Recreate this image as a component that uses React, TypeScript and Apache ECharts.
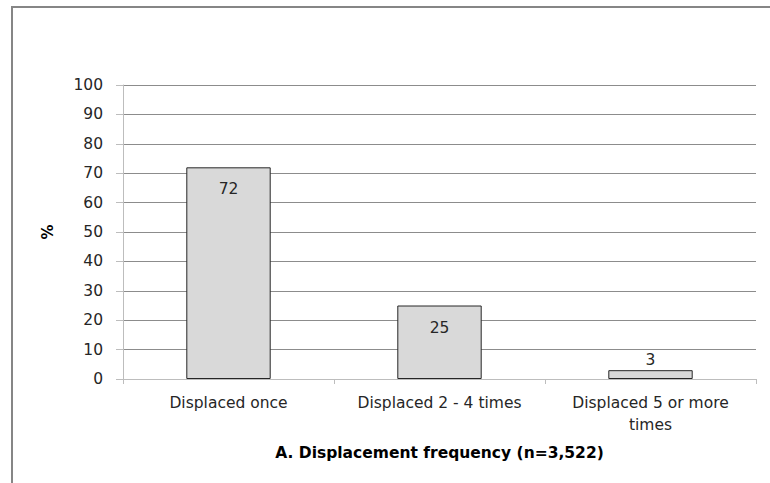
import React, { useEffect, useRef } from "react";
import * as echarts from "echarts";

const categories = ["Displaced once", "Displaced 2 - 4 times", "Displaced 5 or more\ntimes"];
const shares = [72, 25, 3];
const yTicks = { min: 0, max: 100, interval: 10 };
const xTitle = "A. Displacement frequency (n=3,522)";
const yTitle = "%";

const FONT = "DejaVu Sans";

export default function App() {
  const ref = useRef<HTMLDivElement>(null);

  useEffect(() => {
    if (!ref.current) return;
    const chart = echarts.init(ref.current, null, { renderer: "svg" });
    chart.setOption({
      animation: false,
      backgroundColor: "#ffffff",
      textStyle: { fontFamily: FONT },
      grid: { left: 123, right: 14, top: 85, bottom: 104 },
      graphic: [
        {
          type: "polyline",
          shape: { points: [[12, 483], [12, 7], [770, 7]] },
          style: { stroke: "#868686", lineWidth: 2, fill: null },
          silent: true,
        },
      ],
      xAxis: {
        type: "category",
        data: categories,
        name: xTitle,
        nameLocation: "middle",
        nameGap: 66,
        nameMoveOverlap: false,
        nameTextStyle: { fontFamily: FONT, fontSize: 15.5, fontWeight: "bold", color: "#000" },
        axisLine: { lineStyle: { color: "#bdbdbd", width: 1 } },
        axisTick: { show: true, length: 5, lineStyle: { color: "#bdbdbd" } },
        axisLabel: {
          interval: 0,
          hideOverlap: false,
          fontFamily: FONT,
          fontSize: 15.5,
          color: "#262626",
          margin: 13,
          lineHeight: 22,
        },
      },
      yAxis: {
        type: "value",
        min: yTicks.min,
        max: yTicks.max,
        interval: yTicks.interval,
        name: yTitle,
        nameLocation: "middle",
        nameGap: 68,
        nameRotate: 90,
        nameTextStyle: { fontFamily: FONT, fontSize: 15, fontWeight: "bold", color: "#000" },
        axisLine: { show: true, lineStyle: { color: "#bdbdbd", width: 1 } },
        axisTick: { show: true, length: 7, lineStyle: { color: "#bdbdbd" } },
        axisLabel: { fontFamily: FONT, fontSize: 15.5, color: "#262626", margin: 20 },
        splitLine: { show: true, lineStyle: { color: "#8c8c8c", width: 1 } },
      },
      series: [
        {
          type: "bar",
          data: shares.map((v) => ({
            value: v,
            label: { position: v < 10 ? "top" : "insideTop", distance: v < 10 ? 2 : 14 },
          })),
          barWidth: "40%",
          itemStyle: { color: "#d9d9d9", borderColor: "#262626", borderWidth: 1 },
          label: { show: true, fontFamily: FONT, fontSize: 15.5, color: "#262626" },
        },
      ],
    });
    return () => chart.dispose();
  }, []);

  return (
    <div
      ref={ref}
      style={{ position: "absolute", left: 0, top: 0, width: 770, height: 483 }}
    />
  );
}
